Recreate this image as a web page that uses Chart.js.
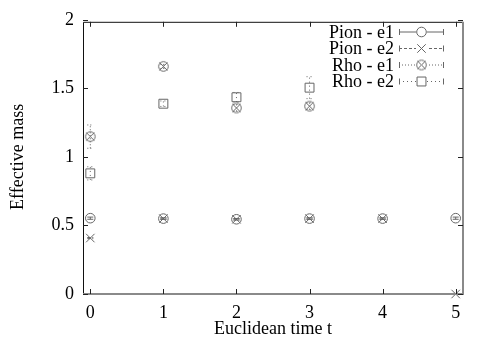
<!DOCTYPE html>
<html>
<head>
<meta charset="utf-8">
<script src="https://cdn.jsdelivr.net/npm/chart.js@4/dist/chart.umd.min.js"></script>
<style>
  html, body { margin: 0; padding: 0; background: #fff; }
  #wrap { width: 491px; height: 343px; }
</style>
</head>
<body>
<div id="wrap"><canvas id="massChart" width="491" height="343"></canvas></div>
<script>
// data
const times = [0, 1, 2, 3, 4, 5];
const pionE1 = [0.553, 0.550, 0.545, 0.550, 0.550, 0.553];
const pionE1Err = [0.008, 0.005, 0.005, 0.005, 0.005, 0.008];
const pionE2 = [0.408, 0.550, 0.545, 0.550, 0.550, 0.0];
const pionE2Err = [0.004, 0.005, 0.005, 0.005, 0.005, 0.004];
const rhoTimes = [0, 1, 2, 3];
const rhoE1 = [1.148, 1.660, 1.357, 1.370];
const rhoE1Err = [0.085, 0.015, 0.025, 0.025];
const rhoE2 = [0.880, 1.388, 1.435, 1.505];
const rhoE2Err = [0.048, 0.02, 0.035, 0.08];
const yTicks = [0, 0.5, 1, 1.5, 2];

const FONT = 'Liberation Serif';
const INK = '#666';

// circle with x inside, for Rho - e1
function circleCross() {
    let c = document.createElement('canvas');
    c.width = 13; c.height = 13;
    let g = c.getContext('2d');
    g.strokeStyle = INK;
    g.lineWidth = 1;
    g.beginPath();
    g.arc(6.5, 6.5, 4.8, 0, Math.PI * 2);
    g.stroke();
    g.beginPath();
    g.moveTo(2.5, 2.5); g.lineTo(10.5, 10.5);
    g.moveTo(10.5, 2.5); g.lineTo(2.5, 10.5);
    g.stroke();
    return c;
}

function pts(xs, ys, errs) {
    return xs.map((x, i) => ({ x: x, y: ys[i], err: errs[i] }));
}

const series = [
    { label: 'Pion - e1', data: pts(times, pionE1, pionE1Err), pointStyle: 'circle', pointRadius: 4.8, dash: [] },
    { label: 'Pion - e2', data: pts(times, pionE2, pionE2Err), pointStyle: 'crossRot', pointRadius: 6, dash: [3, 2] },
    { label: 'Rho - e1', data: pts(rhoTimes, rhoE1, rhoE1Err), pointStyle: circleCross(), pointRadius: 6, dash: [1, 2] },
    { label: 'Rho - e2', data: pts(rhoTimes, rhoE2, rhoE2Err), pointStyle: 'rect', pointRadius: 6.3, dash: [1, 3] }
];

// error bars, frame, inward ticks and gnuplot style key
const gnuplotLook = {
    id: 'gnuplotLook',
    afterDatasetsDraw(chart) {
        let ctx = chart.ctx;
        let xs = chart.scales.x, ys = chart.scales.y;
        ctx.save();
        chart.data.datasets.forEach((ds, di) => {
            ctx.strokeStyle = INK;
            ctx.lineWidth = 1;
            ctx.setLineDash(series[di].dash);
            ds.data.forEach(p => {
                let px = xs.getPixelForValue(p.x);
                let lo = ys.getPixelForValue(p.y - p.err);
                let hi = ys.getPixelForValue(p.y + p.err);
                ctx.beginPath();
                ctx.moveTo(px, lo); ctx.lineTo(px, hi);
                ctx.moveTo(px - 3, lo); ctx.lineTo(px + 3, lo);
                ctx.moveTo(px - 3, hi); ctx.lineTo(px + 3, hi);
                ctx.stroke();
            });
        });
        ctx.setLineDash([]);
        ctx.restore();
    },
    afterDraw(chart) {
        let ctx = chart.ctx;
        let a = chart.chartArea;
        let xs = chart.scales.x, ys = chart.scales.y;
        ctx.save();
        // frame
        ctx.lineWidth = 1;
        ctx.strokeStyle = '#111';
        ctx.beginPath();
        ctx.moveTo(a.left + 0.5, a.bottom); ctx.lineTo(a.left + 0.5, a.top + 2.5);
        ctx.lineTo(a.right, a.top + 2.5);
        ctx.stroke();
        ctx.strokeStyle = '#8a8a8a';
        ctx.lineWidth = 2;
        ctx.beginPath();
        ctx.moveTo(a.left, a.bottom); ctx.lineTo(a.right, a.bottom);
        ctx.lineTo(a.right, a.top + 2);
        ctx.stroke();
        // inward ticks
        ctx.lineWidth = 1;
        ctx.strokeStyle = '#222';
        ctx.beginPath();
        times.forEach(t => {
            let px = Math.round(xs.getPixelForValue(t)) + 0.5;
            ctx.moveTo(px, a.bottom); ctx.lineTo(px, a.bottom - 5);
            ctx.moveTo(px, a.top + 2); ctx.lineTo(px, a.top + 7);
        });
        yTicks.forEach(v => {
            let py = Math.round(ys.getPixelForValue(v)) + 0.5;
            ctx.moveTo(a.left, py); ctx.lineTo(a.left + 5, py);
            ctx.moveTo(a.right, py); ctx.lineTo(a.right - 5, py);
        });
        ctx.stroke();

        // key
        ctx.font = '18px "' + FONT + '"';
        ctx.textAlign = 'right';
        ctx.textBaseline = 'middle';
        chart.data.datasets.forEach((ds, i) => {
            let y = 32 + 16.5 * i;
            ctx.fillStyle = '#000';
            ctx.fillText(ds.label, 394, y + 1);
            ctx.strokeStyle = INK;
            ctx.lineWidth = 1;
            ctx.setLineDash(series[i].dash);
            ctx.beginPath();
            ctx.moveTo(399, y); ctx.lineTo(444, y);
            ctx.stroke();
            ctx.setLineDash([]);
            ctx.beginPath();
            ctx.moveTo(399.5, y - 3); ctx.lineTo(399.5, y + 3);
            ctx.moveTo(443.5, y - 3); ctx.lineTo(443.5, y + 3);
            ctx.stroke();
            // white behind marker so the line does not run through it
            ctx.fillStyle = '#fff';
            ctx.fillRect(416, y - 5, 11, 10);
            ctx.fillStyle = 'rgba(0,0,0,0)';
            Chart.helpers.drawPoint(ctx, {
                pointStyle: ds.pointStyle,
                radius: ds.pointRadius,
                rotation: 0,
                borderWidth: 1
            }, 421.5, y);
        });
        ctx.restore();
    }
};

let massContext = document.getElementById('massChart');

let massChart = new Chart(massContext, {
    type: 'scatter',
    data: {
        datasets: series.map(s => ({
            label: s.label,
            data: s.data,
            pointStyle: s.pointStyle,
            pointRadius: s.pointRadius,
            pointHoverRadius: s.pointRadius,
            pointBorderWidth: 1,
            borderColor: INK,
            backgroundColor: 'rgba(0,0,0,0)',
            showLine: false,
            clip: false
        }))
    },
    options: {
        responsive: false,
        animation: false,
        events: [],
        layout: {
            padding: { left: 7, right: 28, top: 18, bottom: 3 }
        },
        plugins: {
            legend: { display: false },
            tooltip: { enabled: false }
        },
        scales: {
            x: {
                type: 'linear',
                min: -0.1,
                max: 5.1,
                afterBuildTicks: scale => { scale.ticks = times.map(v => ({ value: v })); },
                afterFit: scale => { scale.height = 46; },
                grid: { display: false, drawTicks: false },
                border: { display: false },
                ticks: {
                    padding: 8,
                    color: '#000',
                    font: { family: FONT, size: 18 },
                    callback: v => v
                },
                title: {
                    display: true,
                    text: 'Euclidean time t',
                    color: '#000',
                    padding: { top: 0, bottom: 0 },
                    font: { family: FONT, size: 18 }
                }
            },
            y: {
                min: 0,
                max: 2,
                afterBuildTicks: scale => { scale.ticks = yTicks.map(v => ({ value: v })); },
                afterFit: scale => { scale.width = 76; },
                grid: { display: false, drawTicks: false },
                border: { display: false },
                ticks: {
                    padding: 9,
                    color: '#000',
                    font: { family: FONT, size: 18 },
                    callback: v => v
                },
                title: {
                    display: true,
                    text: 'Effective mass',
                    color: '#000',
                    padding: { top: 0, bottom: 0 },
                    font: { family: FONT, size: 18 }
                }
            }
        }
    },
    plugins: [gnuplotLook]
});
</script>
</body>
</html>
